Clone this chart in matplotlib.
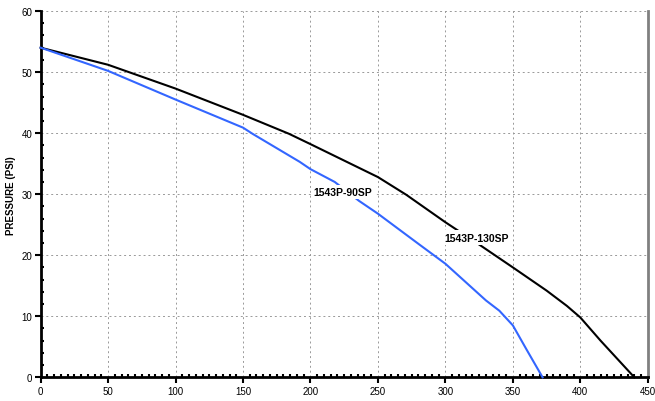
import matplotlib.pyplot as plt
from matplotlib.ticker import MultipleLocator

plt.rcParams['font.family'] = ['Liberation Sans', 'DejaVu Sans']

# pump curves
flow_130 = [0, 50, 100, 150, 184, 200, 250, 271, 300, 326, 350, 375, 390, 400, 415, 440]
psi_130 = [54, 51.2, 47.3, 43.0, 39.9, 38.2, 32.8, 29.9, 25.4, 21.6, 18.0, 14.2, 11.7, 9.8, 6.0, 0]

flow_90 = [0, 50, 100, 150, 157, 192, 200, 218, 236, 250, 281, 300, 330, 340, 350, 360, 372]
psi_90 = [54, 50.2, 45.5, 40.9, 39.9, 35.3, 34.1, 32.0, 28.9, 26.8, 21.7, 18.6, 12.6, 10.9, 8.5, 4.6, 0]

names = ["1543P-90SP", "1543P-130SP"]
label_pos = [(224, 30.4), (323, 22.9)]

fig = plt.figure(figsize=(6.55, 4.02), dpi=100)
ax = fig.add_axes([0.062, 0.059, 0.927, 0.911])

ax.plot(flow_130, psi_130, color="black", lw=1.5, zorder=3, clip_on=False)
ax.plot(flow_90, psi_90, color="#3366ff", lw=1.5, zorder=3, clip_on=False)

for name, (lx, ly) in zip(names, label_pos):
    ax.text(lx, ly, name, fontsize=7.5, fontweight="bold", ha="center", va="center", zorder=4,
            bbox=dict(facecolor="white", edgecolor="none", pad=1.5))

ax.set_xlim(0, 450)
ax.set_ylim(0, 60)
ax.xaxis.set_major_locator(MultipleLocator(50))
ax.xaxis.set_minor_locator(MultipleLocator(5))
ax.yaxis.set_major_locator(MultipleLocator(10))
ax.yaxis.set_minor_locator(MultipleLocator(2))
ax.grid(True, which="major", color="#999999", linestyle=(0, (2, 3)), lw=0.7)

ax.tick_params(which="major", direction="out", length=4, width=1.5, labelsize=7, pad=2)
ax.tick_params(which="minor", direction="in", length=2, width=1.5)
ax.tick_params(top=False, right=False)

ax.spines["top"].set_visible(False)
ax.spines["right"].set_color("#808080")
ax.spines["right"].set_linewidth(2)
ax.spines["left"].set_linewidth(2)
ax.spines["bottom"].set_linewidth(2)

ax.set_ylabel("PRESSURE (PSI)", fontsize=7, fontweight="bold", labelpad=4)

plt.savefig("out.png", dpi=100)
